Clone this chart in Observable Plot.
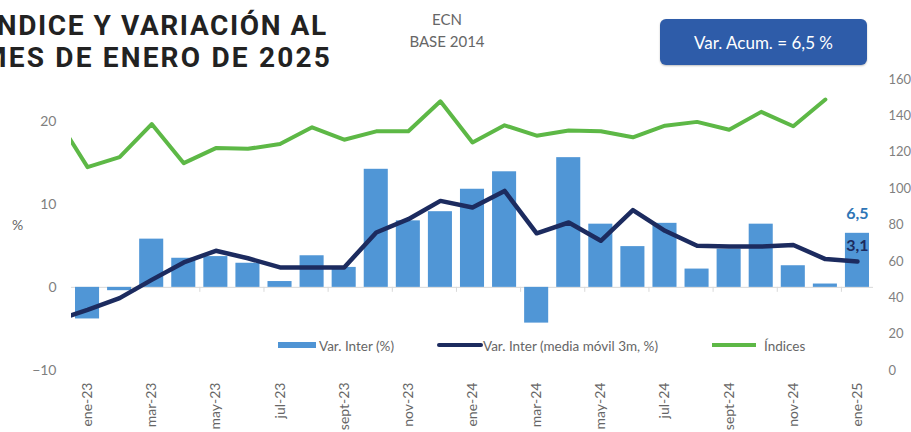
<!DOCTYPE html>
<html><head><meta charset="utf-8">
<script src="https://cdn.jsdelivr.net/npm/d3@7"></script>
<script src="https://cdn.jsdelivr.net/npm/@observablehq/plot@0.6"></script>
<style>
body{margin:0;background:#fff;overflow:hidden}
#wrap{position:relative;width:911px;height:432px;font-family:Lato, sans-serif;overflow:hidden}
#chart{position:absolute;left:0;top:0}
.title{position:absolute;font-family:Roboto, sans-serif;font-weight:700;font-size:28px;color:#222;white-space:nowrap;line-height:28px}
.sub{position:absolute;left:397px;width:100px;text-align:center;font-size:15px;color:#666;line-height:16px}
#box{position:absolute;left:660px;top:19px;width:207px;height:46px;background:#2e5ca9;border-radius:6px;color:#fff;font-size:17px;display:flex;align-items:center;justify-content:center;box-shadow:0 1px 2px rgba(0,0,0,0.25)}
#pct{position:absolute;left:12px;top:216px;font-size:14px;color:#666}
.leg{position:absolute;top:337px;font-size:13.5px;color:#666;white-space:nowrap;line-height:18px}
.sw{position:absolute}
</style></head>
<body>
<div id="wrap">
  <div id="chart"></div>
  <div class="title" style="left:-13px;top:12px;letter-spacing:1.6px">ÍNDICE Y VARIACIÓN AL</div>
  <div class="title" style="left:-18px;top:44px;letter-spacing:2.2px">MES DE ENERO DE 2025</div>
  <div class="sub" style="top:11px">ECN</div>
  <div class="sub" style="top:33px">BASE 2014</div>
  <div id="box">Var. Acum. = 6,5 %</div>
  <div id="pct">%</div>
  <div class="sw" style="left:278px;top:342px;width:38px;height:6px;background:#4f94d4"></div>
  <div class="leg" style="left:319px">Var. Inter (%)</div>
  <div class="sw" style="left:437px;top:343px;width:46px;height:4px;background:#1c2b5f;border-radius:2px"></div>
  <div class="leg" style="left:483px">Var. Inter (media móvil 3m, %)</div>
  <div class="sw" style="left:712px;top:343px;width:44px;height:4px;background:#5db846"></div>
  <div class="leg" style="left:764px">Índices</div>
</div>
<script>
const months = ["ene-23","feb-23","mar-23","abr-23","may-23","jun-23","jul-23","ago-23","sept-23","oct-23","nov-23","dic-23",
                "ene-24","feb-24","mar-24","abr-24","may-24","jun-24","jul-24","ago-24","sept-24","oct-24","nov-24","dic-24","ene-25"];
// Var. Inter (%) per month
const varInter = [-3.8,-0.4,5.8,3.5,3.7,2.9,0.7,3.8,2.4,14.2,8.0,9.1,11.8,13.9,-4.3,15.6,7.6,4.9,7.7,2.2,4.6,7.6,2.6,0.4,6.5];
// Moving average 3m, starting one month earlier (dic-22), clipped at the left edge
const movilStart = -1;
const movil = [-4.0,-2.7,-1.3,0.9,3.0,4.4,3.5,2.4,2.4,2.4,6.6,8.2,10.4,9.6,11.6,6.5,7.8,5.6,9.3,6.8,5.0,4.9,4.9,5.1,3.4,3.1];
// Índices (right axis), dic-22 .. dic-24
const indicesStart = -1;
const indices = [140,111.8,117.3,135.5,114,122.3,121.9,124.5,133.7,126.9,131.5,131.5,148,125.4,134.8,129.1,132,131.5,128.2,134.6,136.7,132.4,142.2,134.3,149];
const leftTicks = [-10,0,10,20];
const rightTicks = [0,20,40,60,80,100,120,140,160];
const leftDomain = [-10,25];
const rightDomain = [0,160];

const toLeft = v => leftDomain[0] + (v - rightDomain[0]) * (leftDomain[1]-leftDomain[0]) / (rightDomain[1]-rightDomain[0]);
const fromLeft = v => rightDomain[0] + (v - leftDomain[0]) * (rightDomain[1]-rightDomain[0]) / (leftDomain[1]-leftDomain[0]);

const bars = months.map((m,i)=>({i, v: varInter[i]}));
const mov = movil.map((v,k)=>({i: k+movilStart, v}));
const idxLine = indices.map((v,k)=>({i: k+indicesStart, v: toLeft(v)}));
const labelIdx = months.map((m,i)=>i).filter(i=>i%2===0);
const tickPos = months.map((m,i)=>i+0.5).filter((p,k)=>k%2===1);
const last = months.length-1;
const fmt = v => String(v.toFixed(1)).replace(".", ",");

const chart = Plot.plot({
  width: 911, height: 432,
  marginLeft: 71, marginRight: 38, marginTop: 79, marginBottom: 62,
  x: {domain: [-0.5, months.length-0.5], axis: null},
  y: {domain: leftDomain, axis: null},
  style: {fontFamily: "Lato, sans-serif", color: "#7f7f7f", background: "transparent"},
  marks: [
    Plot.ruleY([0], {stroke: "#d9d9d9", strokeWidth: 1}),
    Plot.ruleX(tickPos, {x: d=>d, y1: 0, y2: -0.6, stroke: "#d9d9d9"}),
    Plot.rectY(bars, {x1: d=>d.i-0.375, x2: d=>d.i+0.375, y1: 0, y2: "v", fill: "#5096d6"}),
    Plot.line(idxLine, {x: "i", y: "v", stroke: "#5db846", strokeWidth: 4, clip: true}),
    Plot.line(mov, {x: "i", y: "v", stroke: "#1c2b5f", strokeWidth: 4.5, clip: true}),
    Plot.axisY(leftTicks, {anchor: "left", tickSize: 0, tickPadding: 15, fontSize: 14, label: null, fill: "#7f7f7f"}),
    Plot.axisY(rightTicks.map(toLeft), {anchor: "right", tickSize: 0, tickPadding: 15, fontSize: 13, label: null, tickFormat: d => Math.round(fromLeft(d)), fill: "#7f7f7f"}),
    Plot.axisX(labelIdx, {anchor: "bottom", tickRotate: -90, tickSize: 0, tickPadding: 12, fontSize: 14, label: null, tickFormat: i => months[i], fill: "#666"}),
    Plot.text([bars[last]], {x: "i", y: "v", text: d => fmt(d.v), dy: -19, fill: "#2e75b6", fontSize: 16, fontWeight: "bold"}),
    Plot.text([mov[mov.length-1]], {x: "i", y: "v", text: d => fmt(d.v), dy: -16, fill: "#1c2b5f", fontSize: 16, fontWeight: "bold"})
  ]
});
document.getElementById("chart").appendChild(chart);
</script>
</body></html>
